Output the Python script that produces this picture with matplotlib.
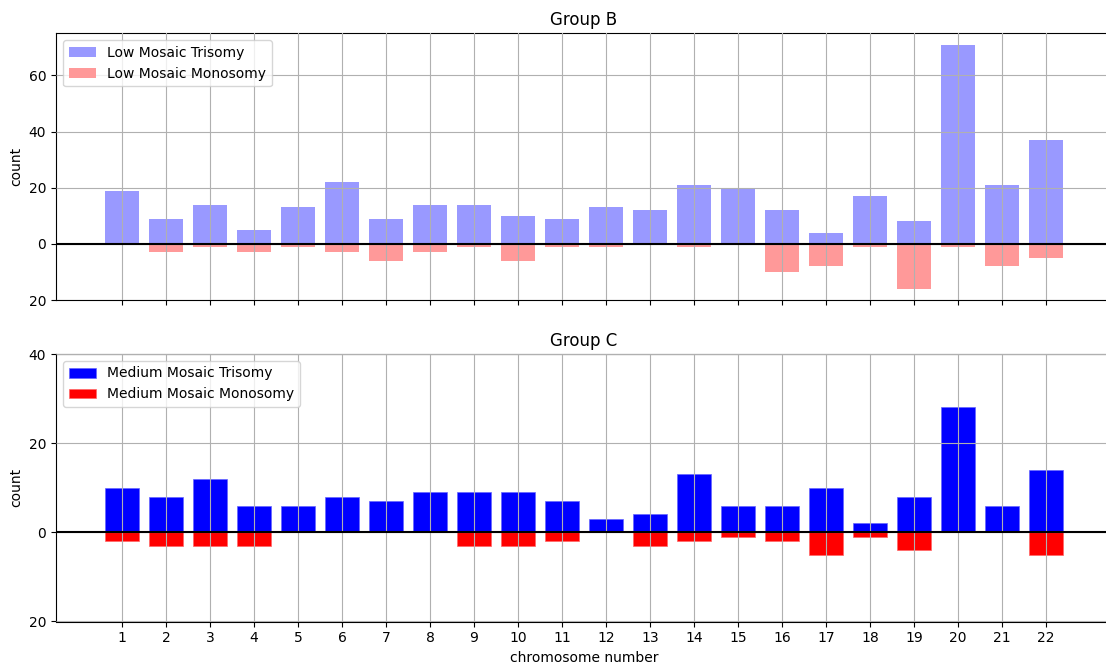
import matplotlib
matplotlib.use("Agg")
import matplotlib.pyplot as plt
from matplotlib.ticker import FuncFormatter

chromosomes = list(range(1, 23))
chrom_labels = [str(c) for c in chromosomes]

low_trisomy = [19, 9, 14, 5, 13, 22, 9, 14, 14, 10, 9, 13, 12, 21, 20, 12, 4, 17, 8, 71, 21, 37]
low_monosomy = [0, 3, 1, 3, 1, 3, 6, 3, 1, 6, 1, 1, 0, 1, 0, 10, 8, 1, 16, 1, 8, 5]

med_trisomy = [10, 8, 12, 6, 6, 8, 7, 9, 9, 9, 7, 3, 4, 13, 6, 6, 10, 2, 8, 28, 6, 14]
med_monosomy = [2, 3, 3, 3, 0, 0, 0, 0, 3, 3, 2, 0, 3, 2, 1, 2, 5, 1, 4, 0, 0, 5]

plt.rcParams['font.family'] = ['DejaVu Sans']
fig = plt.figure(figsize=(11.06, 6.64), dpi=100)

left = 56 / 1106
width = 1056 / 1106
ax1 = fig.add_axes([left, 1 - 300 / 664, width, (300 - 33.3) / 664])
ax2 = fig.add_axes([left, 1 - 621.5 / 664, width, (621.5 - 354) / 664])

absfmt = FuncFormatter(lambda v, p: f"{abs(int(round(v)))}")
bw = 0.77

ax1.bar(chromosomes, low_trisomy, width=bw, color='#9999ff', label='Low Mosaic Trisomy')
ax1.bar(chromosomes, [-v for v in low_monosomy], width=bw, color='#ff9999', label='Low Mosaic Monosomy')
ax1.axhline(0, color='black', lw=1.5, zorder=3)
ax1.set_ylim(-20, 75)
ax1.set_yticks([-20, 0, 20, 40, 60])
ax1.set_title('Group B', fontsize=12)

ax2.bar(chromosomes, med_trisomy, width=bw, color='#0000ff', edgecolor='#6666ff', linewidth=0.5, label='Medium Mosaic Trisomy')
ax2.bar(chromosomes, [-v for v in med_monosomy], width=bw, color='#ff0000', edgecolor='#ff6666', linewidth=0.5, label='Medium Mosaic Monosomy')
ax2.axhline(0, color='black', lw=1.5, zorder=3)
ax2.set_ylim(-20, 40)
ax2.set_yticks([-20, 0, 20, 40])
ax2.set_title('Group C', fontsize=12)
ax2.set_xlabel('chromosome number', fontsize=10)

for ax in (ax1, ax2):
    ax.set_xlim(-0.5, 23.5)
    ax.set_xticks(chromosomes)
    ax.yaxis.set_major_formatter(absfmt)
    ax.set_axisbelow(False)
    ax.grid(True, color='#b0b0b0', lw=0.8)
    ax.set_ylabel('count', fontsize=10)
    ax.tick_params(labelsize=10)
    ax.legend(loc='upper left', fontsize=10)

ax1.set_xticklabels([])
ax2.set_xticklabels(chrom_labels)

fig.savefig('out.png', dpi=100)
